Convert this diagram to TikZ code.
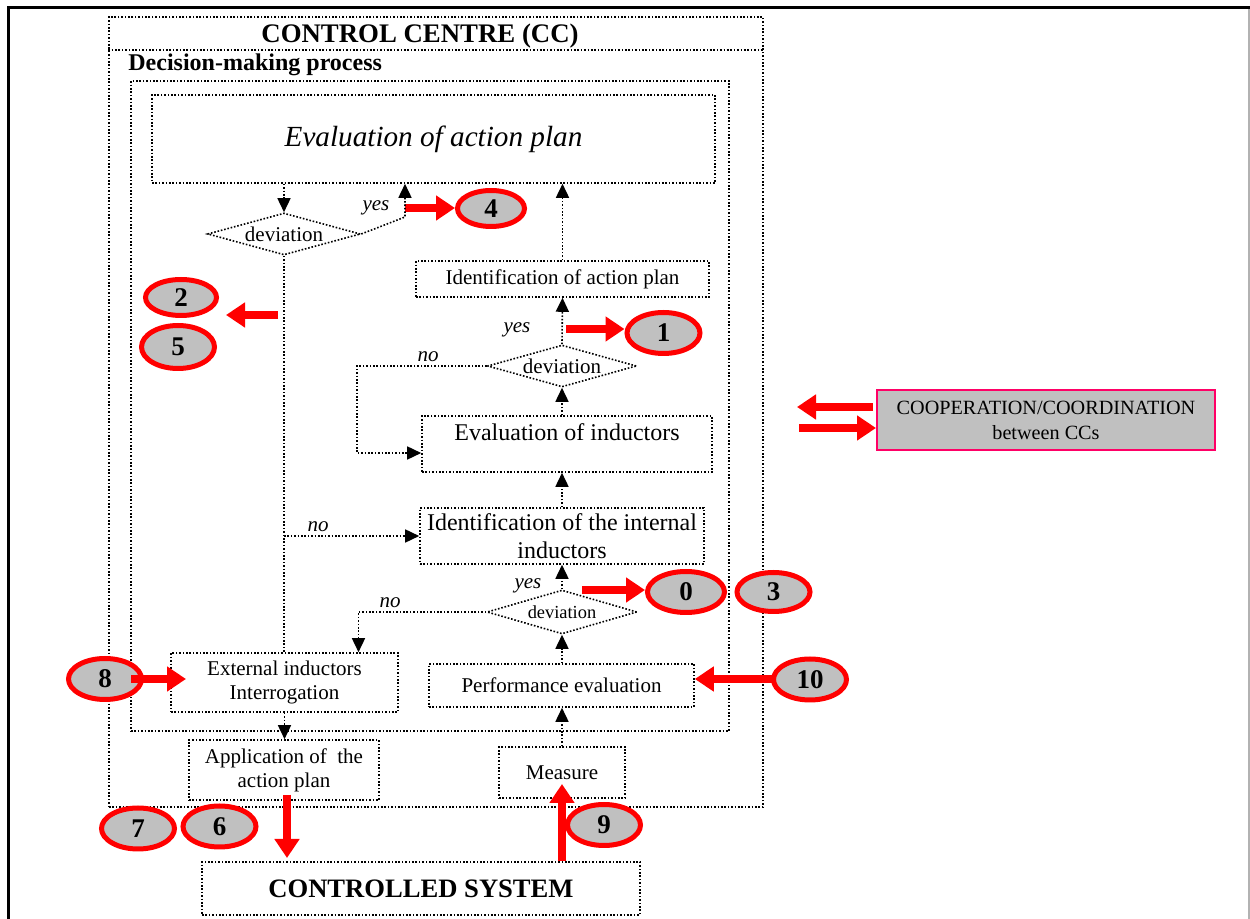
\documentclass[tikz,border=0pt]{standalone}
\usepackage{fontspec}
\setmainfont{Liberation Serif}
\usetikzlibrary{positioning,shapes,arrows.meta}
\definecolor{numgray}{HTML}{C0C0C0}
\definecolor{coopedge}{HTML}{FF0066}

\begin{document}
\begin{tikzpicture}[
  x=0.5pt, y=-0.5pt,
  dots/.style={line width=0.8pt, dash pattern=on 0.8pt off 0.9pt},
  box/.style={draw, dots, rectangle, inner sep=0pt, align=center, font=\fontsize{10.5}{12}\selectfont},
  dev/.style={draw, dots, diamond, aspect=3.6, inner sep=0pt, font=\fontsize{10.5}{12}\selectfont},
  flow/.style={dots, -{Triangle[length=7pt,width=6.5pt]}},
  num/.style={draw=red, line width=2.5pt, fill=numgray, ellipse, inner sep=0pt, minimum width=36.5pt, minimum height=20.5pt, font=\fontsize{13.5}{15}\selectfont\bfseries},
  redarr/.style={draw=red, line width=4pt, -{Triangle[length=9.5pt,width=12pt]}},
  ans/.style={inner sep=0pt, font=\fontsize{10.5}{12}\selectfont\itshape}
]
\useasboundingbox (0,0) rectangle (1250,919);

% frame
\draw[line width=1.75pt] (8.5,919) -- (8.5,7.5) -- (1250,7.5);
\draw[gray!60, line width=0.75pt] (1249,9) -- (1249,919);

% control centre
\node[box, minimum width=327pt, minimum height=395pt] (cc) at (436,412) {};
\coordinate (ccline) at (0,50);
\draw[dots] (cc.west |- ccline) -- (cc.east |- ccline);
\node[font=\fontsize{13.4}{16}\selectfont\bfseries] (cctitle) at (420,36) {CONTROL CENTRE (CC)};
\node[anchor=west, inner sep=0pt, font=\fontsize{12}{14}\selectfont\bfseries] (dmptitle) at (128,65) {Decision-making process};
\node[box, minimum width=299pt, minimum height=325pt] (dmp) at (430,406) {};

\node[box, minimum width=281.5pt, minimum height=44pt, font=\fontsize{14.6}{17}\selectfont\itshape] (evalplan) at (433.5,139) {Evaluation of action plan};
\node[dev, minimum width=76.5pt, minimum height=21pt] (d1) at (284,234) {deviation};
\node[box, minimum width=146.5pt, minimum height=18pt] (identap) at (562.5,279) {Identification of action plan};
\node[dev, minimum width=74.5pt, minimum height=21pt] (d2) at (562,366) {deviation};
\node[box, minimum width=145pt, minimum height=28pt, font=\fontsize{12}{15}\selectfont] (evalind) at (567,444) {Evaluation of inductors\\[-8pt]\strut};
\node[box, minimum width=142pt, minimum height=28pt, font=\fontsize{12}{14}\selectfont] (identin) at (562,536) {Identification of the internal\\inductors};
\node[dev, minimum width=75pt, minimum height=22pt, font=\fontsize{9.2}{11}\selectfont] (d3) at (562,612) {deviation};
\node[box, minimum width=132.5pt, minimum height=21.5pt] (perf) at (561.5,685.5) {Performance evaluation};
\node[box, minimum width=113.5pt, minimum height=29.5pt] (ext) at (284.5,682.5) {External inductors\\Interrogation};
\node[box, minimum width=95pt, minimum height=30pt] (app) at (284,770) {Application of\ \ the\\action plan};
\node[box, minimum width=63pt, minimum height=25.5pt] (measure) at (562,772.5) {Measure};
\node[box, minimum width=219pt, minimum height=26.5pt, font=\fontsize{13.3}{16}\selectfont\bfseries] (ctrlsys) at (421,888.5) {CONTROLLED SYSTEM};
\node[box, solid, draw=coopedge, line width=1pt, fill=numgray, minimum width=169pt, minimum height=30pt, font=\fontsize{10.1}{12.5}\selectfont] (coop) at (1046,420) {COOPERATION/COORDINATION\\between CCs};

\node[num, minimum width=33.5pt, minimum height=18pt] (n4) at (491,208.5) {4};
\node[num] (n1) at (663.5,333) {1};
\node[num, minimum width=35.5pt, minimum height=18pt] (n2) at (181,297.5) {2};
\node[num, minimum height=21.5pt] (n5) at (178,347) {5};
\node[num, minimum width=38.5pt] (n0) at (686,592) {0};
\node[num, minimum height=19.5pt] (n3) at (773.5,592) {3};
\node[num] (n10) at (810,679.5) {10};
\node[num] (n8) at (105,679) {8};
\node[num] (n7) at (138,828.5) {7};
\node[num] (n6) at (219.5,826.5) {6};
\node[num] (n9) at (604,825) {9};

\node[ans] (yes1) at (376,208) {yes};
\node[ans] (yes2) at (517,330) {yes};
\node[ans] (yes3) at (528,586) {yes};
\node[ans] (no1) at (318,527) {no};
\node[ans] (no2) at (428,357) {no};
\node[ans] (no3) at (390,603) {no};

\coordinate (yturn) at (405,217);
\coordinate (noturn) at (357,453);
\coordinate (r4) at (405,208);
\coordinate (r1) at (566,329);
\coordinate (r0) at (582,590);
\coordinate (r10) at (775,679);
\coordinate (r2a) at (278,315);
\coordinate (r2b) at (226,315);
\coordinate (r8a) at (131,679);
\coordinate (r8b) at (186,679);
\coordinate (rdowna) at (287,795);
\coordinate (rdownb) at (287,858);
\coordinate (rupb) at (562,784);
\coordinate (rla) at (873,407);
\coordinate (rlb) at (797,407);
\coordinate (rra) at (799,428);

\path
% decision flow
(evalplan.south -| d1.north) edge[flow] (d1.north) %
(identap.north) edge[flow] (identap.north |- evalplan.south) %
(d2.north) edge[flow] (identap.south) %
(d2.south |- evalind.north) edge[flow] (d2.south) %
(identin.north) edge[flow] (identin.north |- evalind.south) %
(d3.north) edge[flow] (identin.south) %
(d3.south |- perf.north) edge[flow] (d3.south) %
(measure.north) edge[flow] (measure.north |- perf.south) %
(ext.south) edge[flow] (ext.south |- app.north) %

% red links
(r4) edge[redarr] (n4.west |- r4) %
(r1) edge[redarr] (n1.west |- r1) %
(r0) edge[redarr] (n0.west |- r0) %
(r2a) edge[redarr] (r2b) %
(r10) edge[redarr] (perf.east |- r10) %
(r8a) edge[redarr] (r8b) %
(rdowna) edge[redarr] (rdownb) %
(measure |- ctrlsys.north) edge[redarr] (rupb) %
(rla) edge[redarr] (rlb) %
(rra) edge[redarr] (coop.west |- rra) %
;

\draw[flow] (d1.east) -- (yturn) -- (yturn |- evalplan.south);
\draw[dots] (d1.south) -- (d1.south |- ext.north);
\draw[flow] (d1.south |- identin.west) -- (identin.west);
\draw[flow] (d2.west) -| (noturn) -- (noturn -| evalind.west);
\draw[flow] (d3.west) -| ([xshift=37pt]ext.north);

\end{tikzpicture}
\end{document}
